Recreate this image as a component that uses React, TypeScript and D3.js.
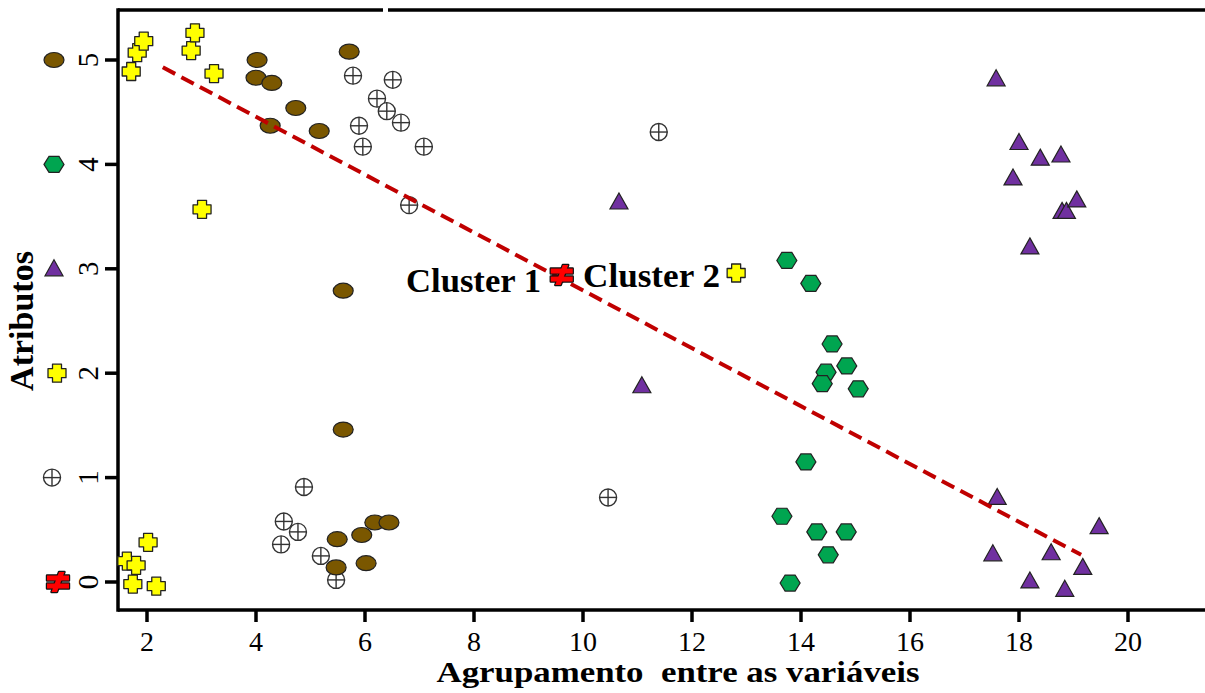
import React from "react";
import * as d3 from "d3";

const xTicks = [2, 4, 6, 8, 10, 12, 14, 16, 18, 20];
const yTicks = [0, 1, 2, 3, 4, 5];

const yellowPts: [number, number][] = [
  [1.71, 4.89], [1.82, 5.07], [1.94, 5.18], [2.81, 5.09], [2.88, 5.26], [3.23, 4.87],
  [3.01, 3.57], [2.02, 0.38], [1.63, 0.2], [1.8, 0.16], [1.74, -0.02], [2.17, -0.04],
  [12.81, 2.96],
];
const brownPts: [number, number][] = [
  [4.02, 5.0], [4.0, 4.83], [4.29, 4.78], [4.73, 4.54], [4.26, 4.37], [5.16, 4.32],
  [5.71, 5.08], [5.6, 2.79], [5.6, 1.46], [5.49, 0.41], [5.94, 0.45], [6.18, 0.57],
  [6.44, 0.57], [5.47, 0.14], [6.02, 0.18],
];
const crossCirclePts: [number, number][] = [
  [5.78, 4.85], [6.51, 4.81], [6.22, 4.63], [6.4, 4.51], [6.66, 4.4], [5.89, 4.37],
  [5.96, 4.17], [7.08, 4.17], [6.81, 3.61], [11.39, 4.31], [10.46, 0.81], [4.88, 0.91],
  [4.51, 0.58], [4.77, 0.48], [4.46, 0.36], [5.19, 0.25], [5.47, 0.02],
];
const greenPts: [number, number][] = [
  [13.74, 3.08], [14.18, 2.86], [14.57, 2.28], [14.84, 2.07], [14.46, 2.01], [14.39, 1.9],
  [15.05, 1.85], [14.09, 1.15], [13.65, 0.63], [14.29, 0.48], [14.83, 0.48], [14.5, 0.26],
  [13.8, -0.01],
];
const purplePts: [number, number][] = [
  [17.58, 4.82], [18.0, 4.21], [18.39, 4.06], [18.77, 4.09], [17.89, 3.87], [18.79, 3.55],
  [18.87, 3.55], [19.06, 3.66], [18.2, 3.21], [17.6, 0.81], [19.47, 0.53], [17.52, 0.27],
  [18.59, 0.28], [19.17, 0.14], [18.2, 0.01], [18.84, -0.07], [10.66, 3.64], [11.08, 1.88],
];
const redPts: [number, number][] = [[9.61, 2.94]];

const legendKinds = ["neq", "crossCircle", "plus", "triangle", "hexagon", "ellipse"];
const trendStart: [number, number] = [2.29, 4.93];
const trendEnd: [number, number] = [19.14, 0.26];
const clusterLabels = ["Cluster 1", "Cluster 2"];

const COLORS: Record<string, string> = {
  plus: "#ffff00",
  ellipse: "#7a5700",
  hexagon: "#00a550",
  triangle: "#7030a0",
  neq: "#ff0000",
};

function Marker({ kind, cx, cy }: { kind: string; cx: number; cy: number }) {
  const t = `translate(${cx},${cy})`;
  if (kind === "ellipse") {
    return <ellipse transform={t} rx={10} ry={7.5} fill={COLORS.ellipse} stroke="#222" strokeWidth={1.2} />;
  }
  if (kind === "hexagon") {
    return (
      <polygon transform={t} points="-10,0 -5,-8 5,-8 10,0 5,8 -5,8" fill={COLORS.hexagon} stroke="#222" strokeWidth={1.2} />
    );
  }
  if (kind === "triangle") {
    return <polygon transform={t} points="0,-9 9,7 -9,7" fill={COLORS.triangle} stroke="#222" strokeWidth={1.2} />;
  }
  if (kind === "plus") {
    const a = 4.5, e = 9;
    const pts = [
      [-a, -e], [a, -e], [a, -a], [e, -a], [e, a], [a, a], [a, e], [-a, e], [-a, a], [-e, a], [-e, -a], [-a, -a],
    ].map((p) => p.join(",")).join(" ");
    return <polygon transform={t} points={pts} fill={COLORS.plus} stroke="#222" strokeWidth={1.3} strokeLinejoin="round" />;
  }
  if (kind === "crossCircle") {
    return (
      <g transform={t} stroke="#333" strokeWidth={1.4}>
        <circle r={8.5} fill="#fff" />
        <line x1={-8.5} x2={8.5} y1={0} y2={0} />
        <line x1={0} x2={0} y1={-8.5} y2={8.5} />
      </g>
    );
  }
  const shapes = (
    <>
      <rect x={-11} y={-6.5} width={22} height={5} />
      <rect x={-11} y={1.5} width={22} height={5} />
      <polygon points="1,-10 6.5,-10 -1,10 -6.5,10" />
    </>
  );
  return (
    <g transform={t}>
      <g fill="#111" stroke="#111" strokeWidth={2.4} strokeLinejoin="round">{shapes}</g>
      <g fill={COLORS.neq}>{shapes}</g>
    </g>
  );
}

export default function App() {
  const W = 1205, H = 693;
  const left = 118, top = 10, bottom = 610, right = 1205;
  const x = d3.scaleLinear().domain([2, 20]).range([147, 1128]);
  const y = d3.scaleLinear().domain([0, 5]).range([582, 60]);
  const serif = "'Liberation Serif', 'Times New Roman', serif";

  const series: { kind: string; pts: [number, number][] }[] = [
    { kind: "crossCircle", pts: crossCirclePts },
    { kind: "ellipse", pts: brownPts },
    { kind: "plus", pts: yellowPts },
    { kind: "hexagon", pts: greenPts },
    { kind: "triangle", pts: purplePts },
  ];

  const trend = d3.line<[number, number]>().x((d) => x(d[0])).y((d) => y(d[1]))([trendStart, trendEnd]) || "";

  return (
    <svg width={W} height={H} style={{ position: "absolute", left: 0, top: 0, background: "#fff" }}>
      <rect width={W} height={H} fill="#fff" />
      <line x1={left} x2={383} y1={top} y2={top} stroke="#000" strokeWidth={3.5} />
      <line x1={388} x2={right} y1={top} y2={top} stroke="#000" strokeWidth={3.5} />
      <line x1={left} x2={left} y1={top - 1.75} y2={bottom + 1.75} stroke="#000" strokeWidth={3.5} />
      <line x1={left} x2={right} y1={bottom} y2={bottom} stroke="#000" strokeWidth={3.5} />

      {xTicks.map((v) => (
        <g key={"xt" + v}>
          <line x1={x(v)} x2={x(v)} y1={bottom} y2={bottom + 12} stroke="#000" strokeWidth={3.5} />
          <text x={x(v)} y={651} textAnchor="middle" fontFamily={serif} fontSize={28}>{v}</text>
        </g>
      ))}
      {yTicks.map((v) => (
        <g key={"yt" + v}>
          <line x1={left - 13} x2={left} y1={y(v)} y2={y(v)} stroke="#000" strokeWidth={3.5} />
          <text transform={`translate(98,${y(v)}) rotate(-90)`} textAnchor="middle" fontFamily={serif} fontSize={29}>{v}</text>
        </g>
      ))}

      {legendKinds.map((k, i) => (
        <Marker key={"lg" + k} kind={k} cx={k === "crossCircle" ? 52 : k === "neq" ? 58 : k === "plus" ? 57 : 54} cy={y(yTicks[i])} />
      ))}

      <text transform="translate(33,321) rotate(-90)" textAnchor="middle" fontFamily={serif} fontWeight="bold" fontSize={34}>Atributos</text>
      <text x={678} y={682} textAnchor="middle" fontFamily={serif} fontWeight="bold" fontSize={30}
        textLength={483} lengthAdjust="spacingAndGlyphs" style={{ whiteSpace: "pre" }}>
        {"Agrupamento  entre as variáveis"}
      </text>

      {series.map((s) =>
        s.pts.map((p, i) => <Marker key={s.kind + i} kind={s.kind} cx={x(p[0])} cy={y(p[1])} />)
      )}

      <path d={trend} fill="none" stroke="#c00000" strokeWidth={4} strokeDasharray="14 7" />

      {redPts.map((p, i) => (
        <Marker key={"red" + i} kind="neq" cx={x(p[0])} cy={y(p[1])} />
      ))}
      <text x={406} y={292} fontFamily={serif} fontWeight="bold" fontSize={33}
        textLength={135} lengthAdjust="spacingAndGlyphs">{clusterLabels[0]}</text>
      <text x={583} y={287} fontFamily={serif} fontWeight="bold" fontSize={33}
        textLength={137} lengthAdjust="spacingAndGlyphs">{clusterLabels[1]}</text>
    </svg>
  );
}
